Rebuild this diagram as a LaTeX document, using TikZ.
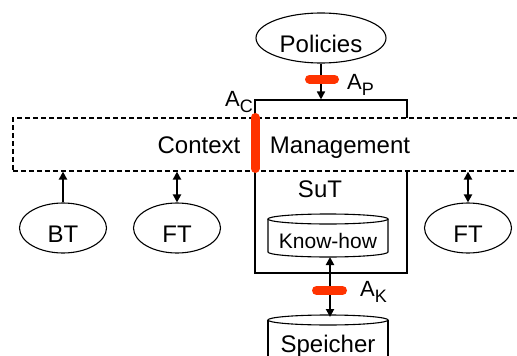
\documentclass[tikz,border=0pt]{standalone}
\usepackage{fontspec}
\setmainfont{Liberation Sans}
\usetikzlibrary{arrows.meta,shapes.geometric}
\definecolor{accred}{RGB}{255,51,0}
\newcommand{\subl}[1]{\raisebox{-6pt}{\fontsize{18}{18}\selectfont #1}}
\begin{document}
\begin{tikzpicture}[x=1pt,y=-1pt,
  every node/.style={font=\fontsize{24}{28}\selectfont},
  oval/.style={draw, ellipse, line width=1.1pt, inner sep=0pt, minimum width=87pt, minimum height=50pt, text height=28pt, text depth=0pt},
  arr/.style={line width=2.3pt, -{Triangle[length=8pt,width=8pt]}},
  darr/.style={line width=2.3pt, {Triangle[length=8pt,width=8pt]}-{Triangle[length=8pt,width=8pt]}},
  thinarr/.style={line width=1.6pt, -{Triangle[length=8pt,width=8pt]}},
  bar/.style={draw=accred, line width=9pt, line cap=round},
  lbl/.style={anchor=base west, inner sep=0pt, font=\fontsize{22}{24}\selectfont},
  txt/.style={anchor=base, inner sep=0pt},
  cyl/.style={draw, line width=1.1pt, fill=white},
]
\useasboundingbox (0,0) rectangle (517,356);

% SuT box (behind the dashed band)
\node[draw, line width=1.1pt, minimum width=152pt, minimum height=173pt, inner sep=0pt] (sut) at (331,186.5) {};

% Context management band
\node[draw, dash pattern=on 5pt off 3pt, line width=1.6pt, fill=white, minimum width=530pt, minimum height=53pt, inner sep=0pt, anchor=north west] (cm) at (12,117) {};
\node[txt] (ctx) at (199,153) {Context};
\node[txt] (mgmt) at (340,153) {Management};

% Policies
\node[oval, minimum width=130pt] (pol) at (321,38) {Policies};
\draw[thinarr] (pol.south) -- (pol.south |- sut.north);

% BT and FT
\node[oval] (bt) at (63,228) {BT};
\node[oval] (ft1) at (177,228) {FT};
\node[oval] (ft2) at (468,228) {FT};
\draw[arr] (bt.north) -- (bt.north |- cm.south);
\draw[darr] (ft1.north) -- (ft1.north |- cm.south);
\draw[darr] (ft2.north) -- (ft2.north |- cm.south);

% SuT label
\node[txt] (sutl) at (320,197) {SuT};

% Know-how cylinder
\draw[cyl] (268,219) -- (268,252) arc (180:0:60 and 5) -- (388,219);
\draw[line width=1.1pt] (328,219) ellipse (60 and 5);
\node[txt, font=\fontsize{21}{24}\selectfont] (kh) at (328,248) {Know-how};
\coordinate (khb) at (330,257);

% Speicher cylinder
\draw[cyl] (268,320) -- (268,362) -- (388,362) -- (388,320);
\draw[line width=1.1pt] (328,320) ellipse (60 and 5);
\node[txt] (sp) at (328,352) {Speicher};
\coordinate (spt) at (330,317);
\draw[darr] (khb) -- (spt);

% interface bars
\coordinate (apL) at (309.5,79);
\coordinate (apR) at (334.5,79);
\draw[bar] (apL) -- (apR);
\coordinate (akL) at (316.5,290.5);
\coordinate (akR) at (342.5,290.5);
\draw[bar] (akL) -- (akR);
\coordinate (acT) at (255,117.5);
\coordinate (acB) at (255,168.5);
\draw[bar] (acT) -- (acB);

% labels
\node[lbl] (ap) at (347,89) {A\subl{P}};
\node[lbl] (ac) at (225,106) {A\subl{C}};
\node[lbl] (ak) at (360,296) {A\subl{K}};
\end{tikzpicture}
\end{document}
